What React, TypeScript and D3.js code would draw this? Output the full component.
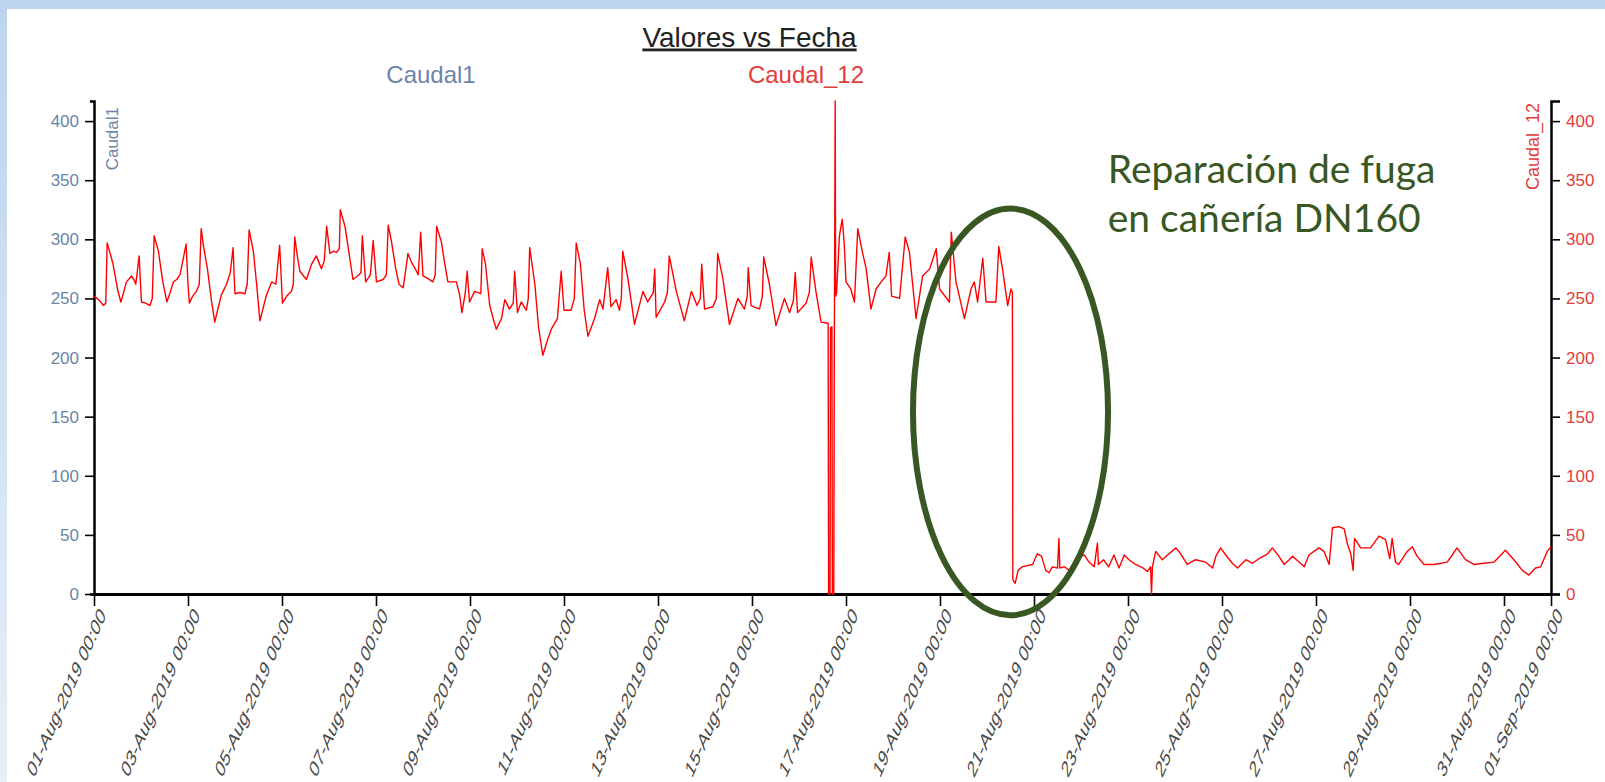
import React, { useEffect, useRef } from "react";
import * as d3 from "d3";

const WIDTH = 1605;
const HEIGHT = 782;

// [días desde 01-Aug-2019 00:00, caudal]
const semana1: [number, number][] = [
  [0.0, 252], [0.1, 249], [0.2, 244], [0.25, 246], [0.28, 297], [0.33, 290], [0.4, 280], [0.5, 258],
  [0.57, 247], [0.63, 255], [0.69, 264], [0.8, 269], [0.86, 265], [0.89, 262], [0.96, 286], [0.99, 262],
  [1.01, 247], [1.1, 246], [1.19, 244], [1.24, 250], [1.28, 303], [1.37, 290], [1.46, 265], [1.55, 247],
  [1.62, 255], [1.69, 264], [1.76, 266], [1.83, 270], [1.96, 296], [2.0, 262], [2.03, 246], [2.1, 252],
  [2.18, 256], [2.24, 262], [2.28, 309], [2.33, 294], [2.41, 276], [2.5, 248], [2.57, 230], [2.63, 240],
  [2.71, 253], [2.82, 262], [2.9, 272], [2.96, 293], [2.98, 270], [3.0, 254], [3.1, 255], [3.21, 254],
  [3.26, 262], [3.3, 308], [3.39, 290], [3.46, 262], [3.53, 231], [3.6, 242], [3.67, 253], [3.78, 264],
  [3.87, 262], [3.95, 295], [4.01, 246], [4.1, 252], [4.2, 256], [4.24, 262], [4.27, 302], [4.33, 285],
  [4.38, 273], [4.52, 266], [4.63, 279], [4.73, 286], [4.84, 275], [4.9, 282], [4.95, 311], [5.02, 288],
  [5.1, 290], [5.16, 289], [5.22, 292], [5.24, 325], [5.34, 311], [5.42, 290], [5.51, 266], [5.64, 270],
  [5.68, 272], [5.71, 303], [5.75, 280], [5.78, 264], [5.88, 270], [5.94, 299], [6.01, 264], [6.15, 266],
  [6.22, 270], [6.26, 312], [6.33, 298], [6.42, 275], [6.49, 262], [6.58, 259], [6.68, 288], [6.75, 281],
  [6.82, 276], [6.9, 270], [6.95, 306], [7.0, 269], [7.1, 267], [7.21, 264], [7.26, 270], [7.29, 311],
  [7.39, 298], [7.46, 280], [7.53, 264], [7.71, 264],
];

const semana2: [number, number][] = [
  [7.78, 253], [7.83, 238], [7.9, 255], [7.94, 273], [7.99, 247], [8.1, 256], [8.23, 254], [8.26, 292],
  [8.33, 279], [8.42, 244], [8.5, 232], [8.56, 224], [8.67, 233], [8.74, 249], [8.84, 241], [8.92, 246],
  [8.95, 273], [9.01, 238], [9.09, 247], [9.2, 240], [9.24, 250], [9.27, 293], [9.38, 262], [9.46, 225],
  [9.55, 202], [9.65, 215], [9.73, 224], [9.86, 233], [9.94, 273], [10.0, 240], [10.15, 240], [10.22, 250],
  [10.26, 297], [10.35, 279], [10.43, 240], [10.51, 218], [10.65, 233], [10.76, 249], [10.83, 241], [10.93, 276],
  [11.0, 243], [11.11, 249], [11.18, 240], [11.22, 250], [11.25, 290], [11.36, 267], [11.5, 228], [11.68, 256],
  [11.78, 247], [11.9, 255], [11.93, 275], [11.96, 234], [12.14, 247], [12.2, 255], [12.24, 286], [12.39, 256],
  [12.56, 231], [12.71, 256], [12.83, 244], [12.9, 250], [12.93, 279], [12.99, 241], [13.17, 243], [13.24, 250],
  [13.27, 288], [13.38, 267], [13.52, 228], [13.7, 250], [13.84, 241], [13.9, 252], [13.92, 276], [13.98, 244],
  [14.16, 241], [14.22, 252], [14.25, 285], [14.37, 262], [14.51, 227], [14.69, 250], [14.8, 238], [14.88, 248],
  [14.92, 272], [14.97, 238], [15.15, 246], [15.22, 255], [15.26, 285], [15.36, 256], [15.47, 230], [15.61, 229],
];

const fugaYPico: [number, number][] = [
  [15.62, 229], [15.63, 0], [15.66, 0], [15.67, 225], [15.7, 226], [15.71, 0], [15.74, 0], [15.75, 188],
  [15.77, 417], [15.78, 252], [15.8, 255], [15.86, 303], [15.92, 317], [15.96, 298], [16.0, 264], [16.1, 258],
  [16.18, 247], [16.25, 309], [16.35, 289], [16.43, 275], [16.53, 241], [16.64, 258], [16.75, 264], [16.85, 269],
  [16.92, 289], [16.97, 252], [17.14, 250], [17.26, 302], [17.35, 289], [17.49, 233], [17.63, 269], [17.78, 275],
  [17.92, 292], [17.99, 258], [18.2, 247], [18.24, 306], [18.34, 264], [18.52, 233], [18.66, 258], [18.73, 264],
  [18.8, 247], [18.91, 284], [18.98, 247], [19.19, 247], [19.25, 294], [19.33, 275], [19.44, 244], [19.51, 258],
  [19.54, 255],
];

const postReparacion: [number, number][] = [
  [19.55, 12], [19.6, 9], [19.66, 20], [19.75, 23], [19.85, 24], [19.97, 25], [20.07, 34], [20.16, 32],
  [20.25, 20], [20.32, 18], [20.39, 23], [20.5, 22], [20.53, 47], [20.55, 22], [20.65, 23], [20.75, 20],
  [20.89, 30], [21.07, 33], [21.17, 27], [21.28, 23], [21.35, 43], [21.37, 25], [21.48, 29], [21.59, 23],
  [21.7, 33], [21.81, 22], [21.92, 33], [22.02, 29], [22.16, 25], [22.32, 22], [22.41, 19], [22.48, 23],
  [22.5, 0], [22.52, 23], [22.59, 36], [22.73, 29], [22.84, 33], [23.02, 39], [23.12, 34], [23.26, 25],
  [23.44, 29], [23.65, 27], [23.8, 22], [23.87, 32], [23.97, 39], [24.08, 33], [24.22, 26], [24.33, 22],
  [24.51, 29], [24.65, 26], [24.79, 30], [24.97, 34], [25.07, 39], [25.21, 32], [25.32, 25], [25.43, 29],
  [25.5, 32], [25.64, 27], [25.75, 23], [25.85, 33], [26.06, 39], [26.17, 36], [26.28, 25], [26.35, 56],
  [26.49, 57], [26.6, 55], [26.67, 42], [26.74, 34], [26.79, 20], [26.82, 47], [26.95, 39], [27.16, 39],
  [27.34, 49], [27.48, 46], [27.57, 30], [27.62, 47], [27.69, 27], [27.76, 25], [27.94, 36], [28.05, 40],
  [28.15, 32], [28.3, 25], [28.51, 25], [28.79, 27], [28.9, 33], [29.0, 39], [29.18, 29], [29.36, 25],
  [29.57, 26], [29.79, 27], [30.03, 37], [30.21, 29], [30.39, 20], [30.53, 16], [30.67, 22], [30.78, 23],
  [30.92, 36], [31.0, 40],
];

const seriesNames = ["Caudal1", "Caudal_12"];
const titulo = "Valores vs Fecha";
const anotacion = ["Reparación de fuga", "en cañería DN160"];
const yTicks = [0, 50, 100, 150, 200, 250, 300, 350, 400];

const inicio = Date.UTC(2019, 7, 1);
const fin = Date.UTC(2019, 8, 1);
const toDate = (d: number) => new Date(inicio + d * 86400000);

const margin = { top: 101, right: 54, bottom: 188, left: 94 };

const BLUE = "#6a85a7";
const RED = "#e23c3c";
const GREEN = "#385723";

export default function App() {
  const ref = useRef<SVGSVGElement>(null);

  useEffect(() => {
    const svg = d3.select(ref.current);
    svg.selectAll("*").remove();

    const datos = [...semana1, ...semana2, ...fugaYPico, ...postReparacion];

    const x = d3
      .scaleUtc()
      .domain([new Date(inicio), new Date(fin)])
      .range([margin.left, WIDTH - margin.right]);

    const y = d3
      .scaleLinear()
      .domain([0, d3.max(datos, (d) => d[1]) as number])
      .range([HEIGHT - margin.bottom, margin.top]);

    // fondo
    const defs = svg.append("defs");
    const grad = defs
      .append("linearGradient")
      .attr("id", "franja")
      .attr("x1", 0)
      .attr("y1", 0)
      .attr("x2", 0)
      .attr("y2", 1);
    grad.append("stop").attr("offset", "0%").attr("stop-color", "#bcd4ed");
    grad.append("stop").attr("offset", "100%").attr("stop-color", "#e6eff8");

    svg.append("rect").attr("width", WIDTH).attr("height", HEIGHT).attr("fill", "url(#franja)");
    svg.append("rect").attr("width", WIDTH).attr("height", 9).attr("fill", "#bdd6ee");
    svg
      .append("rect")
      .attr("x", 7)
      .attr("y", 9)
      .attr("width", WIDTH - 7)
      .attr("height", HEIGHT - 9)
      .attr("fill", "#ffffff");

    const font = "'Liberation Sans', Arial, sans-serif";

    // titulo y leyenda
    svg
      .append("text")
      .attr("x", 749.5)
      .attr("y", 46.5)
      .attr("text-anchor", "middle")
      .attr("font-family", font)
      .attr("font-size", 28)
      .attr("fill", "#222")
      .attr("text-decoration", "underline")
      .text(titulo);

    svg
      .selectAll(".leyenda")
      .data(seriesNames)
      .join("text")
      .attr("class", "leyenda")
      .attr("x", (_, i) => (i === 0 ? 431 : 806))
      .attr("y", 83)
      .attr("text-anchor", "middle")
      .attr("font-family", font)
      .attr("font-size", 24)
      .attr("fill", (_, i) => (i === 0 ? BLUE : RED))
      .text((d) => d);

    // ejes
    const styleAxis = (g: any, color: string, domainWidth: number) => {
      g.select(".domain").attr("stroke", "#000").attr("stroke-width", domainWidth);
      g.selectAll(".tick line").attr("stroke", "#000").attr("stroke-width", 1.6);
      g.selectAll(".tick text")
        .attr("fill", color)
        .attr("font-family", font)
        .attr("font-size", 17);
    };

    const yIzq = svg
      .append("g")
      .attr("transform", `translate(${margin.left},0)`)
      .call(d3.axisLeft(y).tickValues(yTicks).tickSize(9).tickSizeOuter(4).tickPadding(6));
    styleAxis(yIzq, BLUE, 2.5);

    const yDer = svg
      .append("g")
      .attr("transform", `translate(${WIDTH - margin.right},0)`)
      .call(d3.axisRight(y).tickValues(yTicks).tickSize(9).tickSizeOuter(9).tickPadding(6));
    styleAxis(yDer, RED, 2.5);

    const xAxis = svg
      .append("g")
      .attr("transform", `translate(0,${HEIGHT - margin.bottom})`)
      .call(
        d3
          .axisBottom(x)
          .ticks(d3.utcDay.every(2))
          .tickFormat(d3.utcFormat("%d-%b-%Y %H:%M") as any)
          .tickSize(12)
          .tickSizeOuter(0)
      );
    styleAxis(xAxis, "#4a4a4a", 3);
    // etiquetas inclinadas (aspecto oblicuo como en la captura)
    xAxis
      .selectAll(".tick text")
      .attr("font-size", 16)
      .attr("text-anchor", "end")
      .attr("x", null)
      .attr("y", null)
      .attr("dy", "0.35em")
      .attr("transform", "translate(8,17) rotate(-66) skewX(-28) scale(1.3,1)");

    // titulos de ejes
    svg
      .append("text")
      .attr("transform", `translate(${margin.left + 24},107) rotate(-90)`)
      .attr("text-anchor", "end")
      .attr("font-family", font)
      .attr("font-size", 17)
      .attr("fill", BLUE)
      .text(seriesNames[0]);

    svg
      .append("text")
      .attr("transform", `translate(${WIDTH - margin.right - 12},103) rotate(-90)`)
      .attr("text-anchor", "end")
      .attr("font-family", font)
      .attr("font-size", 18)
      .attr("fill", RED)
      .text(seriesNames[1]);

    // serie Caudal_12
    const line = d3
      .line<[number, number]>()
      .x((d) => x(toDate(d[0])))
      .y((d) => y(d[1]));

    svg
      .append("path")
      .datum(datos)
      .attr("d", line)
      .attr("fill", "none")
      .attr("stroke", "#ff0000")
      .attr("stroke-width", 1.4)
      .attr("stroke-linejoin", "round");

    // anotacion
    const cx = x(toDate(19.5));
    const cy = y(154);
    svg
      .append("ellipse")
      .attr("cx", cx)
      .attr("cy", cy)
      .attr("rx", x(toDate(21.575)) - cx)
      .attr("ry", y(154 - 172) - cy)
      .attr("fill", "none")
      .attr("stroke", GREEN)
      .attr("stroke-width", 6);

    svg
      .selectAll(".anotacion")
      .data(anotacion)
      .join("text")
      .attr("class", "anotacion")
      .attr("x", x(toDate(21.57)))
      .attr("y", (_, i) => y(i === 0 ? 347.5 : 306))
      .attr("font-family", "Lato, 'Open Sans', sans-serif")
      .attr("font-size", 39)
      .attr("fill", GREEN)
      .text((d) => d);
  }, []);

  return (
    <div style={{ position: "fixed", left: 0, top: 0, width: WIDTH, height: HEIGHT }}>
      <svg ref={ref} width={WIDTH} height={HEIGHT} style={{ display: "block" }} />
    </div>
  );
}
